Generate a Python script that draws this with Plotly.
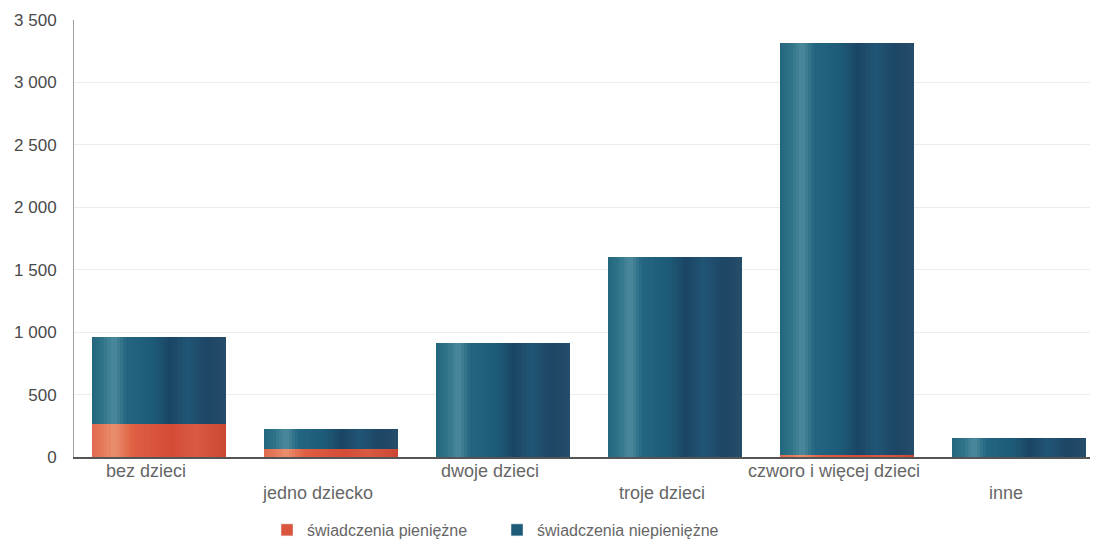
import plotly.graph_objects as go

categories = ["bez dzieci", "jedno dziecko", "dwoje dzieci", "troje dzieci",
              "czworo i więcej dzieci", "inne"]
pieniezne = [262, 62, 0, 0, 20, 0]
niepieniezne = [698, 163, 912, 1600, 3295, 152]
series_names = ["świadczenia pieniężne", "świadczenia niepieniężne"]
label_row = [0, 1, 0, 1, 0, 1]

def hex2rgb(h):
    h = h.lstrip("#")
    return tuple(int(h[i:i + 2], 16) for i in (0, 2, 4))

def grad(stops, t):
    for (t0, c0), (t1, c1) in zip(stops, stops[1:]):
        if t0 <= t <= t1:
            f = (t - t0) / (t1 - t0) if t1 > t0 else 0
            a, b = hex2rgb(c0), hex2rgb(c1)
            return "rgb(%d,%d,%d)" % tuple(round(a[i] + (b[i] - a[i]) * f) for i in range(3))
    return stops[-1][1]

blue_stops = [(0, "#22667f"), (0.08, "#2f7388"), (0.16, "#4d8b9c"), (0.25, "#236680"),
              (0.45, "#1d5b78"), (0.58, "#1b4565"), (0.72, "#215575"), (0.86, "#1d4666"),
              (1.0, "#264d69")]
red_stops = [(0, "#df6a4d"), (0.08, "#e47a5a"), (0.16, "#ea906f"), (0.3, "#df5f43"),
             (0.6, "#d44b36"), (0.78, "#d85a43"), (1.0, "#cc4732")]

N = 44
W = 0.775
sw = W / N

fig = go.Figure()
for name, vals, base, stops in [
    (series_names[0], pieniezne, [0] * len(categories), red_stops),
    (series_names[1], niepieniezne, pieniezne, blue_stops),
]:
    for i in range(N):
        t = (i + 0.5) / N
        fig.add_trace(go.Bar(
            x=categories, y=vals, base=base,
            width=sw * 1.15, offset=-W / 2 + i * sw,
            marker=dict(color=grad(stops, t), line=dict(width=0)),
            name=name, legendgroup=name, showlegend=False,
            hoverinfo="skip",
        ))
    fig.add_trace(go.Bar(
        x=[categories[0]], y=[None], name=name, legendgroup=name,
        marker=dict(color=grad(stops, 0.45)), showlegend=True,
    ))

for cat, row in zip(categories, label_row):
    fig.add_annotation(
        x=cat, xref="x", y=0, yref="paper", yanchor="middle",
        yshift=-14 if row == 0 else -36, xshift=-13,
        text=cat, showarrow=False,
        font=dict(family="Liberation Sans, Arial", size=18, color="#666666"),
    )

fig.update_layout(
    width=1090, height=536,
    margin=dict(l=66, r=0, t=12, b=87, autoexpand=False),
    paper_bgcolor="white", plot_bgcolor="white",
    barmode="overlay", bargap=0,
    separators=", ",
    showlegend=True,
    legend=dict(orientation="h", x=0.1885, xanchor="left", y=-0.167, yanchor="middle",
                font=dict(family="Liberation Sans, Arial", size=16, color="#666666"),
                itemwidth=30, entrywidth=185, entrywidthmode="pixels",
                tracegroupgap=0, bgcolor="rgba(0,0,0,0)"),
    font=dict(family="Liberation Sans, Arial"),
)
fig.update_xaxes(
    type="category", range=[-0.494, 5.459], showticklabels=False, showgrid=False,
    showline=True, linecolor="#555555", linewidth=1.5, ticks="",
)
fig.update_yaxes(
    range=[0, 3500], tickvals=[0, 500, 1000, 1500, 2000, 2500, 3000, 3500],
    tickformat=",d", showgrid=True, gridcolor="#ececec", gridwidth=1,
    showline=True, linecolor="#a0a0a0", linewidth=1, zeroline=False,
    ticklabelstandoff=13,
    tickfont=dict(family="Liberation Sans, Arial", size=17, color="#4a4a4a"),
)

fig.write_html("out.html")
